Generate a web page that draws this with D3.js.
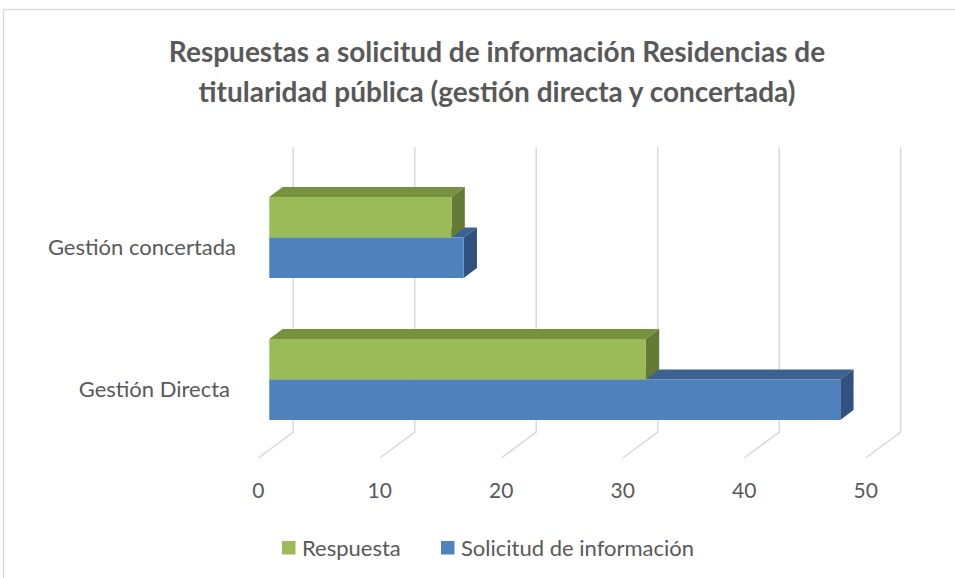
<!DOCTYPE html>
<html>
<head>
<meta charset="utf-8">
<script src="https://cdn.jsdelivr.net/npm/d3@7"></script>
<style>
  body { margin: 0; background: #fff; }
  svg text { font-family: Lato, "Open Sans", sans-serif; fill: #595959; }
</style>
</head>
<body>
<div id="chart"></div>
<script>
// data
const categories = ["Gestión concertada", "Gestión Directa"];
const seriesNames = ["Respuesta", "Solicitud de información"];
const respuesta = [15, 31];
const solicitud = [16, 47];
const tickValues = [0, 10, 20, 30, 40, 50];
const titleLines = [
    "Respuestas a solicitud de información Residencias de",
    "titularidad pública (gestión directa y concertada)"
];

const width = 955, height = 578;
const colors = {
    "Respuesta": { front: "#9bbb59", top: "#77923f", side: "#647a35" },
    "Solicitud de información": { front: "#4f81bd", top: "#3c6292", side: "#31527f" }
};

// 3D offsets relative to the front plane of the bars
const wall = { dx: 24, dy: -17.8 };   // back wall
const floorFront = { dx: -11, dy: 8.2 };
const depth = { dx: 13.3, dy: -10 };  // bar depth

const svg = d3.select("#chart").append("svg")
    .attr("width", width)
    .attr("height", height);

// chart border (only top and left visible)
svg.append("rect")
    .attr("x", 3.5).attr("y", 9.5)
    .attr("width", 1000).attr("height", 600)
    .attr("fill", "#fff")
    .attr("stroke", "#d9d9d9")
    .attr("stroke-width", 1.3);

const x = d3.scaleLinear().domain([0, 50]).range([269.3, 876.7]);

const y = d3.scaleBand()
    .domain(categories)
    .range([197, 420])
    .paddingInner(61 / 142)
    .paddingOuter(0);

const ySub = d3.scaleBand()
    .domain(seriesNames)
    .range([0, y.bandwidth()]);

const wallTop = 147.3, wallBottom = 432;

// gridlines on back wall + floor
const grid = svg.append("g");
tickValues.forEach(t => {
    const xw = x(t) + wall.dx;
    const xf = x(t) + floorFront.dx;
    grid.append("path")
        .attr("d", `M${xw},${wallTop} L${xw},${wallBottom} L${xf},${wallBottom + (floorFront.dy - wall.dy)}`)
        .attr("fill", "none")
        .attr("stroke", "#d9d9d9")
        .attr("stroke-width", 1.5);
    svg.append("text")
        .attr("x", xf)
        .attr("y", 498)
        .attr("text-anchor", "middle")
        .attr("font-size", "21px")
        .text(t);
});

// bars, bottom series first so upper bar faces overlap correctly
const values = { "Respuesta": respuesta, "Solicitud de información": solicitud };
const bars = svg.append("g");
categories.forEach((cat, i) => {
    ["Solicitud de información", "Respuesta"].forEach(s => {
        const x0 = x(0), x1 = x(values[s][i]);
        const y0 = y(cat) + ySub(s), y1 = y0 + ySub.bandwidth();
        const c = colors[s];
        // top face
        bars.append("path")
            .attr("d", `M${x0},${y0} L${x0 + depth.dx},${y0 + depth.dy} L${x1 + depth.dx},${y0 + depth.dy} L${x1},${y0} Z`)
            .attr("fill", c.top);
        // side face
        bars.append("path")
            .attr("d", `M${x1},${y0} L${x1 + depth.dx},${y0 + depth.dy} L${x1 + depth.dx},${y1 + depth.dy} L${x1},${y1} Z`)
            .attr("fill", c.side);
        // front face
        bars.append("rect")
            .attr("x", x0).attr("y", y0)
            .attr("width", x1 - x0).attr("height", y1 - y0)
            .attr("fill", c.front);
    });
});

// category labels
categories.forEach(cat => {
    const cy = y(cat) + y.bandwidth() / 2;
    svg.append("text")
        .attr("x", 236 - (cy - 237.5) * 0.042)
        .attr("y", cy + 17)
        .attr("text-anchor", "end")
        .attr("font-size", "22px")
        .text(cat);
});

// title
svg.append("g").selectAll("text")
    .data(titleLines)
    .join("text")
    .attr("x", 497)
    .attr("y", (d, i) => 62 + i * 40)
    .attr("text-anchor", "middle")
    .attr("font-size", "28px")
    .attr("font-weight", "bold")
    .text(d => d);

// legend
const legendX = [282, 441];
const legend = svg.append("g");
seriesNames.forEach((s, i) => {
    legend.append("rect")
        .attr("x", legendX[i]).attr("y", 541)
        .attr("width", 13.5).attr("height", 13.5)
        .attr("fill", colors[s].front);
    legend.append("text")
        .attr("x", legendX[i] + 20)
        .attr("y", 556)
        .attr("font-size", "22px")
        .text(s);
});
</script>
</body>
</html>
